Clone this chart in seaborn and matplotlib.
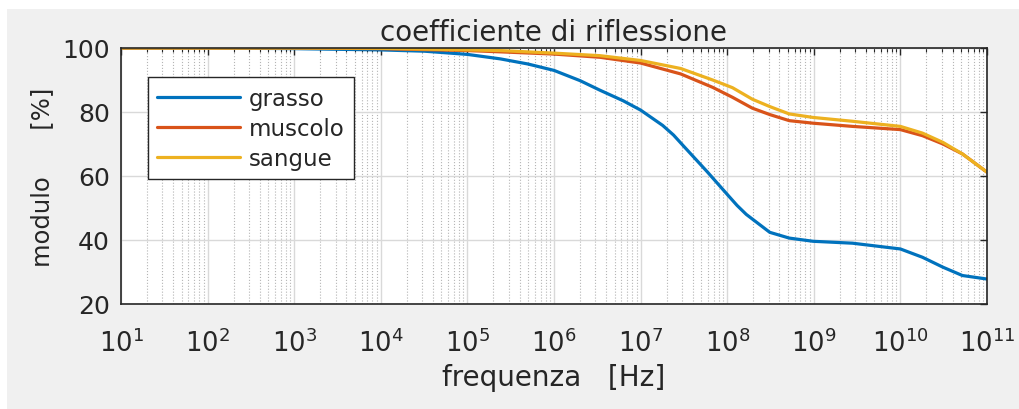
import numpy as np
import pandas as pd
import matplotlib
matplotlib.use("Agg")
import matplotlib.pyplot as plt
import seaborn as sns
from matplotlib.patches import Rectangle
from matplotlib.ticker import LogLocator, LogFormatterSciNotation, NullFormatter

# ---- data ----
freq_grasso = [1e1, 1e2, 1e3, 1e4, 3.2e4, 1e5, 2.4e5, 5e5, 1e6, 2e6, 3.4e6, 6.3e6, 1e7,
               1.8e7, 2.4e7, 3.1e7, 5.8e7, 1.02e8, 1.3e8, 1.66e8, 3.1e8, 5.2e8, 9.8e8,
               2.8e9, 1e10, 1.8e10, 3.1e10, 5.2e10, 1e11]
grasso = [100, 100, 99.8, 99.4, 99.0, 98.0, 96.6, 95.0, 93.0, 89.8, 86.8, 83.5, 80.6,
          75.8, 72.8, 69.5, 61.5, 54.0, 50.8, 48.0, 42.4, 40.6, 39.6,
          39.0, 37.2, 34.6, 31.5, 28.9, 27.8]

freq_muscolo = [1e1, 1e2, 1e3, 1e4, 1e5, 2.4e5, 1e6, 3.4e6, 1e7, 2.9e7, 6.8e7, 1.15e8,
                1.95e8, 3.1e8, 5.2e8, 9.8e8, 2.8e9, 1e10, 1.8e10, 3.1e10, 5.2e10, 1e11]
muscolo = [100, 100, 100, 99.8, 99.2, 98.8, 98.1, 97.1, 95.3, 91.9, 87.7, 84.6,
           81.2, 79.2, 77.3, 76.5, 75.5, 74.5, 72.6, 70.0, 66.9, 61.2]

freq_sangue = [1e1, 1e2, 1e3, 1e4, 1e5, 2.4e5, 1e6, 3.4e6, 1e7, 2.9e7, 6.8e7, 1.15e8,
               1.95e8, 3.1e8, 5.2e8, 9.8e8, 2.8e9, 1e10, 1.8e10, 3.1e10, 5.2e10, 1e11]
sangue = [100, 100, 100, 99.9, 99.4, 99.2, 98.4, 97.6, 96.1, 93.6, 90.0, 87.6,
          84.0, 81.7, 79.4, 78.3, 77.1, 75.5, 73.4, 70.5, 66.9, 61.2]

series_names = ["grasso", "muscolo", "sangue"]
colors = ["#0072BD", "#D95319", "#EDB120"]

df = pd.concat([
    pd.DataFrame({"f": freq_grasso, "v": grasso, "tessuto": "grasso"}),
    pd.DataFrame({"f": freq_muscolo, "v": muscolo, "tessuto": "muscolo"}),
    pd.DataFrame({"f": freq_sangue, "v": sangue, "tessuto": "sangue"}),
], ignore_index=True)

sns.set_theme(style="white")
plt.rcParams['font.family'] = ['DejaVu Sans']

fig = plt.figure(figsize=(10.2, 4.1), dpi=100, facecolor="white")
fig.patches.append(Rectangle((7 / 1020, 0), 1, 1 - 10 / 410, transform=fig.transFigure,
                             facecolor="#f0f0f0", edgecolor="none", zorder=-10))
ax = fig.add_axes([121 / 1020, 1 - 305 / 410, (987 - 121) / 1020, (305 - 49) / 410])
ax.set_facecolor("white")

sns.lineplot(data=df, x="f", y="v", hue="tessuto", hue_order=series_names,
             palette=colors, estimator=None, sort=False, linewidth=2.3, ax=ax)

ax.set_xscale("log")
ax.set_xlim(1e1, 1e11)
ax.set_ylim(20, 100)
ax.set_yticks([20, 40, 60, 80, 100])
ax.xaxis.set_major_locator(LogLocator(base=10, numticks=20))
ax.xaxis.set_major_formatter(LogFormatterSciNotation())
ax.xaxis.set_minor_locator(LogLocator(base=10, subs=np.arange(2, 10), numticks=200))
ax.xaxis.set_minor_formatter(NullFormatter())

ax.grid(True, which="major", color="#d9d9d9", linewidth=1.0, linestyle="-")
ax.grid(True, which="minor", axis="x", color="#b5b5b5", linewidth=0.8, linestyle=":")
ax.set_axisbelow(True)

for s in ax.spines.values():
    s.set_color("#262626")
    s.set_linewidth(1.2)
ax.tick_params(which="both", direction="in", top=True, right=True, colors="#262626",
               labelcolor="#262626")
ax.tick_params(axis="x", which="major", labelsize=18.5, pad=18)
ax.tick_params(axis="y", which="major", labelsize=18, pad=8)
ax.tick_params(which="major", length=5, width=1.0)
ax.tick_params(which="minor", length=3, width=0.8)

ax.set_title("coefficiente di riflessione", fontsize=20, color="#262626", pad=6)
ax.set_xlabel("frequenza   [Hz]", fontsize=20, color="#262626", labelpad=4)
ax.set_ylabel("modulo      [%]", fontsize=17.5, color="#262626", labelpad=6)

leg = ax.legend(loc="upper left", bbox_to_anchor=(0.031, 0.885), fontsize=16.5,
                frameon=True, fancybox=False, edgecolor="#262626", framealpha=1,
                handlelength=3.6, borderpad=0.4, labelspacing=0.32, handletextpad=0.4,
                borderaxespad=0)
leg.get_frame().set_linewidth(1.0)
leg.set_title(None)

fig.savefig("out.png", dpi=100, facecolor=fig.get_facecolor())
